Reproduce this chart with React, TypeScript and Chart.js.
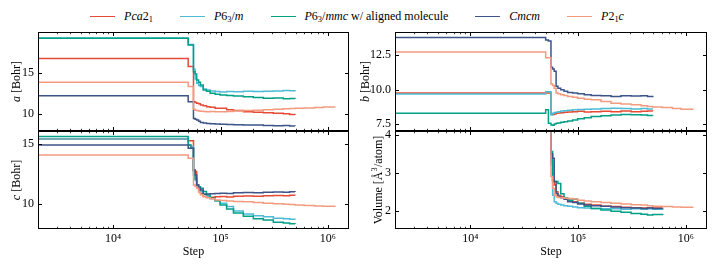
import React, { useEffect, useRef } from "react";
import { Chart, registerables } from "chart.js";

Chart.register(...registerables);

const FONT = "'Liberation Serif', 'Times New Roman', Times, serif";

// ---------- series ----------
const seriesLabels = ["Pca2₁", "P6₃/m", "P6₃/mmc w/ aligned molecule", "Cmcm", "P2₁c"];
const seriesColors = ["#E64B35", "#4DBBD5", "#00A087", "#3C5488", "#F39B7F"];

// ---------- x (Step) ----------
const stepsMain = [2000, 50000, 53000, 56000, 58000, 60000, 62500, 65000, 69000, 74000, 80000, 89000, 99000, 114000, 132000, 163000, 202000, 250000, 310000, 384000, 440000, 493000, 610000];
const stepsP21c = [2000, 50000, 53000, 56000, 58000, 60000, 62500, 65000, 69000, 74000, 80000, 89000, 99000, 114000, 132000, 163000, 202000, 250000, 310000, 384000, 440000, 493000, 600000, 750000, 904000, 1160000];

// ---------- a [Bohr] ----------
const aPca21 = [16.8, 15.82, 15.82, 11.54, 11.45, 11.34, 11.3, 11.13, 11.05, 10.93, 10.85, 10.75, 10.73, 10.55, 10.45, 10.32, 10.25, 10.2, 10.12, 10.05, 9.98, 9.91];
const aP63m = [19.32, 18.5, 18.5, 15.5, 14.3, 13.78, 13.5, 13.38, 13.1, 12.97, 12.85, 12.77, 12.72, 12.77, 12.75, 12.8, 12.78, 12.8, 12.85, 12.9, 12.88, 12.97];
const aP63mmc = [19.27, 18.45, 18.45, 15.2, 14.9, 14.19, 13.9, 13.58, 12.97, 12.8, 12.56, 12.45, 12.36, 12.3, 12.22, 12.15, 12.05, 11.95, 11.98, 11.9, 11.92, 11.87];
const aCmcm = [12.27, 11.54, 11.54, 9.5, 9.4, 9.3, 9.15, 9.01, 8.95, 8.89, 8.85, 8.8, 8.77, 8.75, 8.72, 8.68, 8.7, 8.64, 8.6, 8.62, 8.58, 8.56];
const aP21c = [13.9, 13.38, 13.38, 10.6, 10.5, 10.45, 10.4, 10.38, 10.35, 10.32, 10.33, 10.3, 10.32, 10.35, 10.4, 10.45, 10.5, 10.55, 10.6, 10.66, 10.7, 10.73, 10.78, 10.82, 10.88, 10.92];

// ---------- b [Bohr] ----------
const bPca21 = [9.76, 9.76, 9.76, 8.25, 8.2, 8.22, 8.28, 8.3, 8.32, 8.36, 8.38, 8.4, 8.42, 8.38, 8.4, 8.43, 8.4, 8.44, 8.4, 8.42, 8.45, 8.44];
const bP63m = [9.68, 9.85, 9.85, 8.16, 8.28, 8.33, 8.36, 8.4, 8.45, 8.46, 8.5, 8.53, 8.55, 8.58, 8.6, 8.63, 8.65, 8.62, 8.6, 8.63, 8.6, 8.6];
const bP63mmc = [8.28, 8.53, 7.55, 7.43, 7.4, 7.5, 7.55, 7.58, 7.62, 7.67, 7.72, 7.8, 7.88, 7.95, 8.04, 8.1, 8.16, 8.2, 8.18, 8.16, 8.12, 8.11];
const bCmcm = [13.8, 13.62, 13.55, 11.64, 11.5, 11.35, 10.24, 10.1, 9.99, 9.88, 9.8, 9.76, 9.7, 9.63, 9.58, 9.55, 9.51, 9.56, 9.53, 9.55, 9.5, 9.56];
const bP21c = [12.74, 12.33, 12.33, 10.42, 10.3, 10.1, 9.76, 9.7, 9.63, 9.58, 9.51, 9.45, 9.38, 9.3, 9.26, 9.14, 9.02, 8.95, 8.9, 8.82, 8.77, 8.74, 8.7, 8.62, 8.58, 8.53];

// ---------- c [Bohr] ----------
const cPca21 = [15.44, 15.28, 15.28, 12.86, 12.72, 11.61, 11.2, 10.9, 10.64, 10.6, 10.58, 10.62, 10.64, 10.6, 10.66, 10.68, 10.66, 10.7, 10.72, 10.7, 10.74, 10.72];
const cP63m = [15.44, 14.94, 14.8, 12.44, 12.0, 11.47, 11.3, 11.06, 10.85, 10.64, 10.45, 10.3, 10.08, 9.81, 9.44, 9.19, 9.05, 8.97, 8.83, 8.8, 8.75, 8.72];
const cP63mmc = [15.64, 14.94, 14.67, 12.72, 12.1, 11.61, 11.45, 11.33, 11.06, 10.78, 10.5, 10.3, 9.94, 9.61, 9.28, 9.0, 8.8, 8.68, 8.5, 8.44, 8.38, 8.36];
const cCmcm = [14.94, 14.67, 14.67, 12.86, 12.44, 11.61, 11.35, 11.19, 10.83, 10.86, 10.88, 10.9, 10.92, 10.9, 10.95, 10.97, 10.95, 11.0, 11.02, 11.0, 11.05, 11.03];
const cP21c = [14.11, 13.83, 13.83, 11.61, 11.47, 11.33, 11.0, 10.8, 10.64, 10.55, 10.45, 10.36, 10.32, 10.28, 10.22, 10.2, 10.15, 10.08, 10.05, 10.0, 9.98, 9.94, 9.9, 9.86, 9.84, 9.78];

// ---------- Volume [Å^3/atom] ----------
const vPca21 = [8.2, 6.6, 5.0, 3.3, 2.81, 2.68, 2.5, 2.4, 2.37, 2.33, 2.28, 2.24, 2.2, 2.17, 2.15, 2.12, 2.11, 2.09, 2.08, 2.07, 2.08, 2.07, 2.08];
const vP63m = [7.8, 6.2, 4.8, 3.21, 2.41, 2.24, 2.2, 2.17, 2.15, 2.13, 2.12, 2.1, 2.08, 2.07, 2.06, 2.05, 2.05, 2.04, 2.05, 2.04, 2.05, 2.04, 2.05];
const vP63mmc = [8.5, 6.8, 5.5, 3.56, 2.77, 2.77, 2.77, 2.72, 2.45, 2.33, 2.28, 2.3, 2.2, 2.12, 2.06, 2.02, 1.99, 1.96, 1.93, 1.91, 1.89, 1.9, 1.89];
const vCmcm = [8.0, 6.5, 5.0, 3.5, 3.38, 2.77, 2.45, 2.37, 2.34, 2.3, 2.24, 2.22, 2.18, 2.15, 2.13, 2.12, 2.1, 2.08, 2.07, 2.06, 2.07, 2.06, 2.06];
const vP21c = [8.0, 6.4, 5.2, 2.9, 2.59, 2.41, 2.37, 2.35, 2.34, 2.33, 2.32, 2.31, 2.28, 2.26, 2.24, 2.22, 2.2, 2.18, 2.16, 2.15, 2.13, 2.12, 2.11, 2.1, 2.09, 2.08];

// ---------- ticks ----------
const xTicks = [1e4, 1e5, 1e6];
const aTicks = [10, 15];
const bTicks = [7.5, 10, 12.5];
const cTicks = [10, 15];
const vTicks = [2, 3, 4];
const X_MIN = 2000;
const X_MAX = 1.57e6;

const series = [
  { steps: stepsMain, a: aPca21, b: bPca21, c: cPca21, v: vPca21 },
  { steps: stepsMain, a: aP63m, b: bP63m, c: cP63m, v: vP63m },
  { steps: stepsMain, a: aP63mmc, b: bP63mmc, c: cP63mmc, v: vP63mmc },
  { steps: stepsMain, a: aCmcm, b: bCmcm, c: cCmcm, v: vCmcm },
  { steps: stepsP21c, a: aP21c, b: bP21c, c: cP21c, v: vP21c },
];

type Part = { t: string; it?: boolean; sup?: boolean };
type PanelDef = {
  key: "a" | "b" | "c" | "v";
  left: number; top: number; w: number; h: number;
  padT: number; padB: number; padR: number; xH: number;
  showX: boolean; yMin: number; yMax: number; yTicks: number[]; dec: number;
  title: Part[]; titleX: number;
};

const panels: PanelDef[] = [
  { key: "a", left: 0, top: 19, w: 357, h: 124, padT: 13, padB: 11, padR: 8, xH: 1, showX: false,
    yMin: 7.96, yMax: 20.04, yTicks: aTicks, dec: 0, title: [{ t: "a", it: true }, { t: " [Bohr]" }], titleX: 16.5 },
  { key: "b", left: 357, top: 19, w: 357, h: 124, padT: 13, padB: 11, padR: 7, xH: 1, showX: false,
    yMin: 6.99, yMax: 14.2, yTicks: bTicks, dec: 1, title: [{ t: "b", it: true }, { t: " [Bohr]" }], titleX: 8.5 },
  { key: "c", left: 0, top: 118, w: 357, h: 150, padT: 13, padB: 0, padR: 8, xH: 39, showX: true,
    yMin: 7.94, yMax: 16.1, yTicks: cTicks, dec: 0, title: [{ t: "c", it: true }, { t: " [Bohr]" }], titleX: 17 },
  { key: "v", left: 357, top: 118, w: 357, h: 150, padT: 13, padB: 0, padR: 7, xH: 39, showX: true,
    yMin: 1.52, yMax: 4.1, yTicks: vTicks, dec: 0, title: [{ t: "Volume [Å" }, { t: "3", sup: true }, { t: "/atom]" }], titleX: 21.5 },
];

const SUP: Record<number, string> = { 3: "³", 4: "⁴", 5: "⁵", 6: "⁶" };

function decoPlugin(p: PanelDef) {
  return {
    id: "deco_" + p.key,
    afterDraw(chart: any) {
      const { ctx } = chart;
      const { left, right, top, bottom } = chart.chartArea;
      const xs = chart.scales.x;
      const ys = chart.scales.y;
      ctx.save();
      ctx.strokeStyle = "#000";
      // major x ticks
      ctx.lineWidth = 1;
      ctx.beginPath();
      for (const v of xTicks) {
        const px = Math.round(xs.getPixelForValue(v)) + 0.5;
        ctx.moveTo(px, bottom); ctx.lineTo(px, bottom - 4);
        ctx.moveTo(px, top); ctx.lineTo(px, top + 4);
      }
      for (const v of p.yTicks) {
        const py = Math.round(ys.getPixelForValue(v)) + 0.5;
        ctx.moveTo(left, py); ctx.lineTo(left + 4, py);
        ctx.moveTo(right, py); ctx.lineTo(right - 4, py);
      }
      ctx.stroke();
      // minor x ticks
      ctx.lineWidth = 0.8;
      ctx.beginPath();
      for (const d of [1e3, 1e4, 1e5, 1e6]) {
        for (let k = 2; k <= 9; k++) {
          const v = k * d;
          if (v <= X_MIN || v >= X_MAX) continue;
          const px = Math.round(xs.getPixelForValue(v)) + 0.5;
          ctx.moveTo(px, bottom); ctx.lineTo(px, bottom - 2.2);
          ctx.moveTo(px, top); ctx.lineTo(px, top + 2.2);
        }
      }
      ctx.stroke();
      // frame
      ctx.lineWidth = 1;
      ctx.strokeRect(left + 0.5, top + 0.5, right - left - 1, bottom - top - 1);
      // y title
      ctx.translate(p.titleX, (top + bottom) / 2);
      ctx.rotate(-Math.PI / 2);
      ctx.fillStyle = "#000";
      ctx.textBaseline = "middle";
      ctx.textAlign = "left";
      const fontOf = (pt: Part) =>
        (pt.it ? "italic " : "") + (pt.sup ? "8px " : "12px ") + FONT;
      let total = 0;
      const widths = p.title.map((pt) => {
        ctx.font = fontOf(pt);
        const w = ctx.measureText(pt.t).width + (pt.sup ? 0.5 : 0);
        total += w;
        return w;
      });
      let x = -total / 2;
      p.title.forEach((pt, i) => {
        ctx.font = fontOf(pt);
        ctx.fillText(pt.t, x, pt.sup ? -4 : 0);
        x += widths[i];
      });
      ctx.restore();
    },
  };
}

function Panel({ p }: { p: PanelDef }) {
  const ref = useRef<HTMLCanvasElement>(null);
  useEffect(() => {
    const canvas = ref.current;
    if (!canvas) return;
    const datasets = series.map((s, i) => {
      const vals = (s as any)[p.key] as number[];
      return {
        label: seriesLabels[i],
        data: vals.map((y, j) => ({ x: s.steps[j], y })),
        borderColor: seriesColors[i],
        backgroundColor: seriesColors[i],
        borderWidth: 1.5,
        pointRadius: 0,
        stepped: "before" as const,
        fill: false,
        order: 5 - i,
      };
    });
    const tickFont = { family: FONT, size: 12 };
    const chart = new Chart(canvas, {
      type: "line",
      data: { datasets },
      options: {
        responsive: false,
        animation: false,
        events: [],
        layout: { padding: { left: 0, right: p.padR, top: p.padT, bottom: p.padB } },
        plugins: { legend: { display: false }, tooltip: { enabled: false } },
        scales: {
          x: {
            type: "logarithmic",
            min: X_MIN,
            max: X_MAX,
            position: "bottom",
            grid: { display: false, drawTicks: false },
            border: { display: false },
            afterBuildTicks: (s: any) => {
              s.ticks = xTicks.map((v) => ({ value: v }));
            },
            ticks: {
              display: p.showX,
              autoSkip: false,
              maxRotation: 0,
              minRotation: 0,
              padding: 3,
              color: "#000",
              font: tickFont,
              callback: (v: any) => {
                const e = Math.round(Math.log10(Number(v)));
                return "10" + (SUP[e] || "");
              },
            },
            title: {
              display: p.showX,
              text: "Step",
              color: "#000",
              font: tickFont,
              padding: { top: 0, bottom: 9 },
            },
            afterFit: (s: any) => {
              s.height = p.xH;
              s.paddingLeft = 0;
              s.paddingRight = 0;
            },
          } as any,
          y: {
            type: "linear",
            min: p.yMin,
            max: p.yMax,
            grid: { display: false, drawTicks: false },
            border: { display: false },
            afterBuildTicks: (s: any) => {
              s.ticks = p.yTicks.map((v) => ({ value: v }));
            },
            ticks: {
              padding: 4,
              color: "#000",
              font: tickFont,
              callback: (v: any) => Number(v).toFixed(p.dec),
            },
            afterFit: (s: any) => {
              s.width = 38;
              s.paddingTop = 0;
              s.paddingBottom = 0;
            },
          } as any,
        },
      },
      plugins: [decoPlugin(p)],
    } as any);
    return () => chart.destroy();
  }, []);
  return (
    <canvas
      ref={ref}
      width={p.w}
      height={p.h}
      style={{ position: "absolute", left: p.left, top: p.top, width: p.w, height: p.h }}
    />
  );
}

const subStyle: React.CSSProperties = { fontSize: "70%", verticalAlign: "-0.25em", lineHeight: 0 };
const legendNodes = [
  <><i>Pca</i>2<sub style={subStyle}>1</sub></>,
  <><i>P</i>6<sub style={subStyle}>3</sub>/<i>m</i></>,
  <><i>P</i>6<sub style={subStyle}>3</sub>/<i>mmc</i> w/ aligned molecule</>,
  <><i>Cmcm</i></>,
  <><i>P</i>2<sub style={subStyle}>1</sub><i>c</i></>,
];

function Legend() {
  return (
    <div
      style={{
        position: "absolute", left: 0, top: 8, width: 714, height: 16,
        display: "flex", justifyContent: "center", alignItems: "center", gap: 27,
        fontFamily: FONT, fontSize: 12, lineHeight: "16px", color: "#000",
      }}
    >
      {seriesLabels.map((lab, i) => (
        <div key={lab} title={lab} style={{ display: "flex", alignItems: "center", whiteSpace: "nowrap" }}>
          <span style={{ display: "inline-block", width: 25, height: 0, borderTop: `1.6px solid ${seriesColors[i]}`, marginRight: 9 }} />
          <span>{legendNodes[i]}</span>
        </div>
      ))}
    </div>
  );
}

export default function App() {
  return (
    <div style={{ position: "absolute", left: 0, top: 0, width: 714, height: 268, background: "#fff", overflow: "hidden" }}>
      <Legend />
      {panels.map((p) => (
        <Panel key={p.key} p={p} />
      ))}
    </div>
  );
}
